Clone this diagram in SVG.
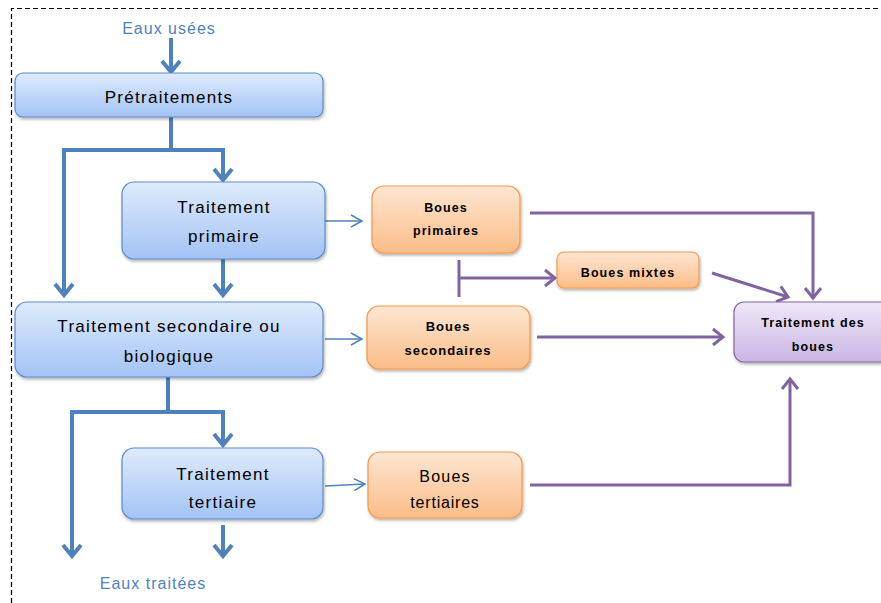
<svg xmlns="http://www.w3.org/2000/svg" width="881" height="603" viewBox="0 0 881 603">
<style>
.t{font-family:"Liberation Sans",Arial,sans-serif;fill:#000;text-anchor:middle}
.big{font-size:17px;letter-spacing:1.3px}
.sm{font-size:12.5px;font-weight:bold;letter-spacing:1.1px}
.lab{font-family:"Liberation Sans",Arial,sans-serif;fill:#4f81bd;font-size:16px;letter-spacing:1px;text-anchor:middle}
.bb{fill:url(#gb);stroke:#5b8bd0;stroke-width:1.2;filter:url(#sh)}
.ob{fill:url(#go);stroke:#f79646;stroke-width:1.2;filter:url(#sh)}
.pb{fill:url(#gp);stroke:#8064a2;stroke-width:1.2;filter:url(#sh)}
.cb{fill:none;stroke:#4f81bd;stroke-width:4;marker-end:url(#mb)}
.cb0{fill:none;stroke:#4f81bd;stroke-width:4}
.ct{fill:none;stroke:#4f81bd;stroke-width:1.5;marker-end:url(#mt)}
.cp{fill:none;stroke:#8064a2;stroke-width:3;marker-end:url(#mp)}
.cp0{fill:none;stroke:#8064a2;stroke-width:3}
</style>
<defs>
<linearGradient id="gb" x1="0" y1="0" x2="0" y2="1"><stop offset="0" stop-color="#dfebfc"/><stop offset="1" stop-color="#a3c3f5"/></linearGradient>
<linearGradient id="go" x1="0" y1="0" x2="0" y2="1"><stop offset="0" stop-color="#fde6d2"/><stop offset="1" stop-color="#fbbd88"/></linearGradient>
<linearGradient id="gp" x1="0" y1="0" x2="0" y2="1"><stop offset="0" stop-color="#efe8f8"/><stop offset="1" stop-color="#c9b5e4"/></linearGradient>
<filter id="sh" x="-10%" y="-20%" width="120%" height="150%"><feDropShadow dx="1" dy="2" stdDeviation="1.5" flood-color="#000" flood-opacity="0.3"/></filter>
<marker id="mb" markerUnits="userSpaceOnUse" markerWidth="24" markerHeight="24" refX="12" refY="12" orient="auto" overflow="visible"><path d="M1,3 L12,12 L1,21" fill="none" stroke="#4f81bd" stroke-width="4"/></marker>
<marker id="mt" markerUnits="userSpaceOnUse" markerWidth="14" markerHeight="14" refX="11" refY="6" orient="auto" overflow="visible"><path d="M0,0 L11,6 L0,12" fill="none" stroke="#4f81bd" stroke-width="1.5"/></marker>
<marker id="mp" markerUnits="userSpaceOnUse" markerWidth="20" markerHeight="20" refX="10" refY="9" orient="auto" overflow="visible"><path d="M0,1 L10,9 L0,17" fill="none" stroke="#8064a2" stroke-width="3"/></marker>
</defs>
<g id="frame"><path d="M11.5,603 L11.5,8.5 L881,8.5" fill="none" stroke="#000" stroke-width="1.2" stroke-dasharray="5,3"/></g>
<g id="connectors">
<path class="cb" d="M171,38 L171,72"/>
<path class="cb0" d="M171,117 L171,150"/>
<path class="cb" d="M64,150 L64,295"/>
<path class="cb0" d="M62,150 L225,150"/>
<path class="cb" d="M223,150 L223,180"/>
<path class="cb" d="M223,259 L223,295"/>
<path class="cb0" d="M168,377 L168,412"/>
<path class="cb0" d="M70,412 L225,412"/>
<path class="cb" d="M72,412 L72,556"/>
<path class="cb" d="M223,412 L223,445"/>
<path class="cb" d="M223,525 L223,556"/>
<path class="ct" d="M325,221 L362,221"/>
<path class="ct" d="M325,339 L362,339"/>
<path class="ct" d="M325,486 L365,484"/>
<path class="cp" d="M530,213 L813,213 L813,298"/>
<path class="cp0" d="M459,260 L459,297"/>
<path class="cp" d="M459,278 L555,278"/>
<path class="cp" d="M712,273 L788,297"/>
<path class="cp" d="M537,337 L723,337"/>
<path class="cp" d="M530,485 L790,485 L790,379"/>
</g>
<g id="eaux-usees"><text class="lab" x="169" y="34">Eaux usées</text></g>
<g id="pretraitements"><rect class="bb" x="15" y="73" width="308" height="44" rx="8"/><text class="t big" x="169" y="103">Prétraitements</text></g>
<g id="traitement-primaire"><rect class="bb" x="122" y="182" width="203" height="77" rx="12"/><text class="t big" x="224" y="213">Traitement</text><text class="t big" x="224" y="242">primaire</text></g>
<g id="traitement-secondaire"><rect class="bb" x="15" y="302" width="308" height="75" rx="12"/><text class="t big" x="169" y="332">Traitement secondaire ou</text><text class="t big" x="169" y="362">biologique</text></g>
<g id="traitement-tertiaire"><rect class="bb" x="122" y="448" width="201" height="71" rx="12"/><text class="t big" x="223" y="480">Traitement</text><text class="t big" x="223" y="508">tertiaire</text></g>
<g id="eaux-traitees"><text class="lab" x="153" y="589">Eaux traitées</text></g>
<g id="boues-primaires"><rect class="ob" x="372" y="186" width="148" height="67" rx="12"/><text class="t sm" x="446" y="212">Boues</text><text class="t sm" x="446" y="235">primaires</text></g>
<g id="boues-secondaires"><rect class="ob" x="367" y="306" width="163" height="63" rx="12"/><text class="t sm" x="448" y="331" style="font-size:13px;letter-spacing:1px">Boues</text><text class="t sm" x="448" y="355" style="font-size:13px;letter-spacing:1px">secondaires</text></g>
<g id="boues-tertiaires"><rect class="ob" x="368" y="452" width="154" height="66" rx="12"/><text class="t" x="445" y="482" style="font-size:16px;letter-spacing:1.2px">Boues</text><text class="t" x="445" y="508" style="font-size:16px;letter-spacing:0.8px">tertiaires</text></g>
<g id="boues-mixtes"><rect class="ob" x="557" y="252" width="142" height="36" rx="7"/><text class="t sm" x="628" y="277">Boues mixtes</text></g>
<g id="traitement-boues"><rect class="pb" x="734" y="302" width="160" height="60" rx="10"/><text class="t sm" x="813" y="327">Traitement des</text><text class="t sm" x="813" y="351">boues</text></g>
</svg>
